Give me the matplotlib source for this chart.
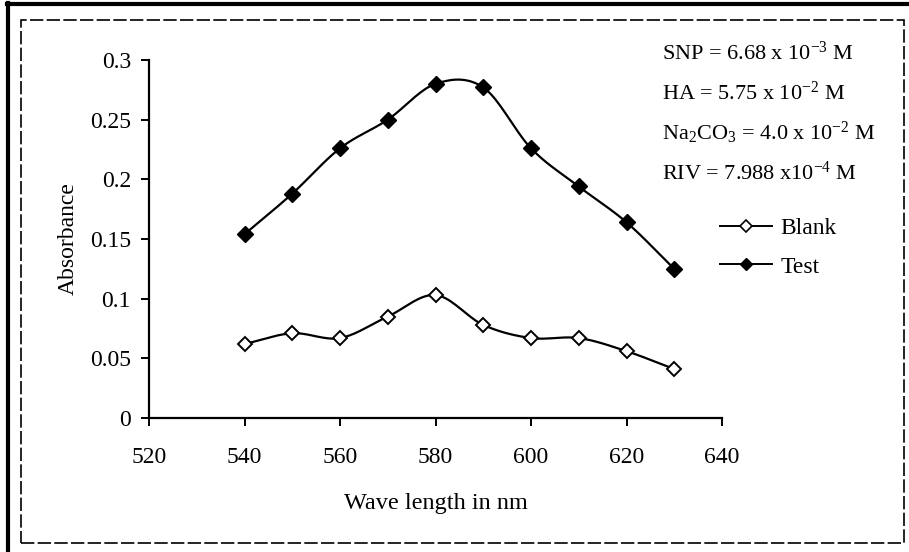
import numpy as np
import matplotlib
matplotlib.use("Agg")
import matplotlib.pyplot as plt
from matplotlib.patches import Rectangle
from matplotlib.lines import Line2D

# data
wavelength = [540, 550, 560, 570, 580, 590, 600, 610, 620, 630]
blank = [0.062, 0.071, 0.067, 0.085, 0.103, 0.078, 0.067, 0.067, 0.056, 0.041]
test = [0.154, 0.188, 0.226, 0.250, 0.280, 0.277, 0.226, 0.194, 0.164, 0.125]

x_ticks = [520, 540, 560, 580, 600, 620, 640]
y_ticks = [0, 0.05, 0.1, 0.15, 0.2, 0.25, 0.3]
y_labels = ["0", "0.05", "0.1", "0.15", "0.2", "0.25", "0.3"]

notes = [
    r"SNP = 6.68 x 10$^{-3}$ M",
    r"HA = 5.75 x 10$^{-2}$ M",
    r"Na$_2$CO$_3$ = 4.0 x 10$^{-2}$ M",
    r"RIV = 7.988 x10$^{-4}$ M",
]

plt.rcParams['font.family'] = ['Liberation Serif', 'DejaVu Serif']
plt.rcParams['mathtext.fontset'] = 'custom'
plt.rcParams['mathtext.rm'] = 'Liberation Serif'
plt.rcParams['mathtext.it'] = 'Liberation Serif'
plt.rcParams['mathtext.default'] = 'rm'


def smooth(xs, ys, n=20):
    # catmull-rom style curve through the points, like Excel's smoothed line
    xs = np.asarray(xs, float)
    ys = np.asarray(ys, float)
    px = np.concatenate([[2 * xs[0] - xs[1]], xs, [2 * xs[-1] - xs[-2]]])
    py = np.concatenate([[2 * ys[0] - ys[1]], ys, [2 * ys[-1] - ys[-2]]])
    out_x, out_y = [], []
    t = np.linspace(0, 1, n)
    for i in range(1, len(px) - 2):
        for p, out in ((px, out_x), (py, out_y)):
            p0, p1, p2, p3 = p[i - 1], p[i], p[i + 1], p[i + 2]
            out.extend(0.5 * (2 * p1 + (-p0 + p2) * t
                              + (2 * p0 - 5 * p1 + 4 * p2 - p3) * t ** 2
                              + (-p0 + 3 * p1 - 3 * p2 + p3) * t ** 3))
    return out_x, out_y


fig = plt.figure(figsize=(9.09, 5.52), dpi=100)
ax = fig.add_axes([149 / 909, 1 - 418 / 552, (722 - 149) / 909, (418 - 60) / 552])

bx, by = smooth(wavelength, blank)
tx, ty = smooth(wavelength, test)
ax.plot(bx, by, color='black', lw=1.6)
ax.plot(tx, ty, color='black', lw=1.6)
ax.plot(wavelength, blank, ls='none', marker='D', ms=7.5, mfc='white', mec='black', mew=1.4)
ax.plot(wavelength, test, ls='none', marker='D', ms=8, mfc='black', mec='black')

ax.set_xlim(520, 640)
ax.set_ylim(0, 0.3)
ax.set_xticks(x_ticks)
ax.set_yticks(y_ticks)
ax.set_yticklabels(y_labels)
for s in ['top', 'right']:
    ax.spines[s].set_visible(False)
for s in ['left', 'bottom']:
    ax.spines[s].set_linewidth(1.6)
ax.tick_params(direction='out', length=6, width=1.4, labelsize=17)
ax.tick_params(axis='y', pad=7)
ax.tick_params(axis='x', pad=15)
ax.set_xlabel("Wave length in nm", fontsize=17.5, labelpad=18)
ax.set_ylabel("Absorbance", fontsize=17, labelpad=8)

for i, s in enumerate(notes):
    fig.text(662 / 909, 1 - (53 + 40 * i) / 552, s, fontsize=16, va='center', ha='left')

handles = [
    Line2D([], [], color='black', lw=1.4, marker='D', ms=6, mfc='white', mec='black', mew=1.2),
    Line2D([], [], color='black', lw=1.4, marker='D', ms=6, mfc='black', mec='black'),
]
fig.legend(handles, ["Blank", "Test"], loc='center left', bbox_to_anchor=(720 / 909, 1 - 247.5 / 552),
           frameon=False, fontsize=17, handlelength=2.2, handletextpad=0.35, labelspacing=0.72,
           borderpad=0, borderaxespad=0)

# outer frame of the scanned figure
fig.add_artist(Rectangle((21 / 909, 1 - 543 / 552), (904 - 21) / 909, (543 - 20) / 552,
                         transform=fig.transFigure, fill=False, lw=1.2, ls=(0, (8, 2)), ec='black'))
fig.add_artist(Line2D([8 / 909, 8 / 909], [0, 1 - 3 / 552], transform=fig.transFigure, lw=3, color='black'))
fig.add_artist(Line2D([7 / 909, 1], [1 - 4 / 552, 1 - 4 / 552], transform=fig.transFigure, lw=3, color='black'))

fig.savefig("out.png", dpi=100)
